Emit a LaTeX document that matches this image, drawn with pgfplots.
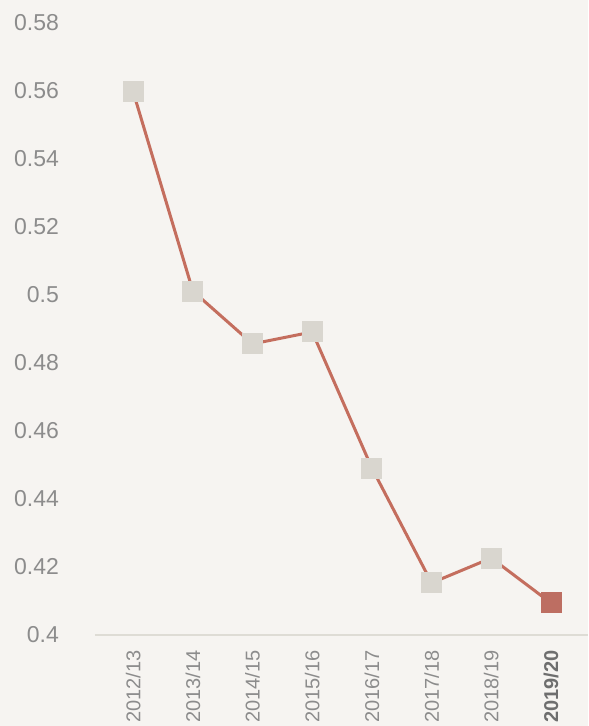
\documentclass[border=0pt]{standalone}
\usepackage{pgfplots}
\pgfplotsset{compat=1.18}
\usepackage{fontspec}
\setmainfont{Liberation Sans}
\usetikzlibrary{backgrounds}
\definecolor{bg}{HTML}{F6F4F1}
\definecolor{mk}{HTML}{D9D6CF}
\definecolor{ln}{HTML}{C46E5E}
\definecolor{last}{HTML}{BD6E62}
\definecolor{lbl}{HTML}{8C8C8C}
\definecolor{lblb}{HTML}{6E6E6E}
\definecolor{axl}{HTML}{DEDCD5}

\begin{document}
\begin{tikzpicture}
\begin{axis}[
scale only axis,
width=246.5pt,height=317.5pt,
xmin=-0.64,xmax=7.62,
ymin=0.4,ymax=0.5865,
axis x line*=bottom,
axis y line*=left,
x axis line style={draw=axl,line width=0.8pt,-},
y axis line style={draw=none},
major tick length=0pt,
xtick={0,...,7},
xticklabels={2012/13,2013/14,2014/15,2015/16,2016/17,2017/18,2018/19,{\textbf{\color{lblb}2019/20}}},
ytick={0.4,0.42,...,0.59},
/pgf/number format/assume math mode=true,
yticklabel style={/pgf/number format/fixed,/pgf/number format/precision=2,
  font=\fontsize{11.5}{13}\selectfont,text=lbl,xshift=-14.5pt},
xticklabel style={rotate=90,anchor=east,font=\fontsize{10}{12}\selectfont,text=lbl,
  inner xsep=1pt,xshift=-6.5pt},
clip=false
]
\addplot[draw=ln,line width=1.5pt,mark=square*,mark size=5pt,
  mark options={fill=mk,draw=mk,line width=0pt}] coordinates {
(0,0.5595)(1,0.501)(2,0.4855)(3,0.489)(4,0.449)(5,0.4153)(6,0.4226)(7,0.4094)
};
\addplot[draw=none,mark=square*,mark size=5pt,mark options={fill=last,draw=last,line width=0pt}]
coordinates {(7,0.4094)};
\coordinate (sw) at (rel axis cs:0,0);
\coordinate (ne) at (rel axis cs:1,1);
\end{axis}
\begin{scope}[on background layer]
\fill[bg] ([xshift=-47.5pt,yshift=-45.5pt]sw) rectangle (ne);
\end{scope}
\end{tikzpicture}
\end{document}
